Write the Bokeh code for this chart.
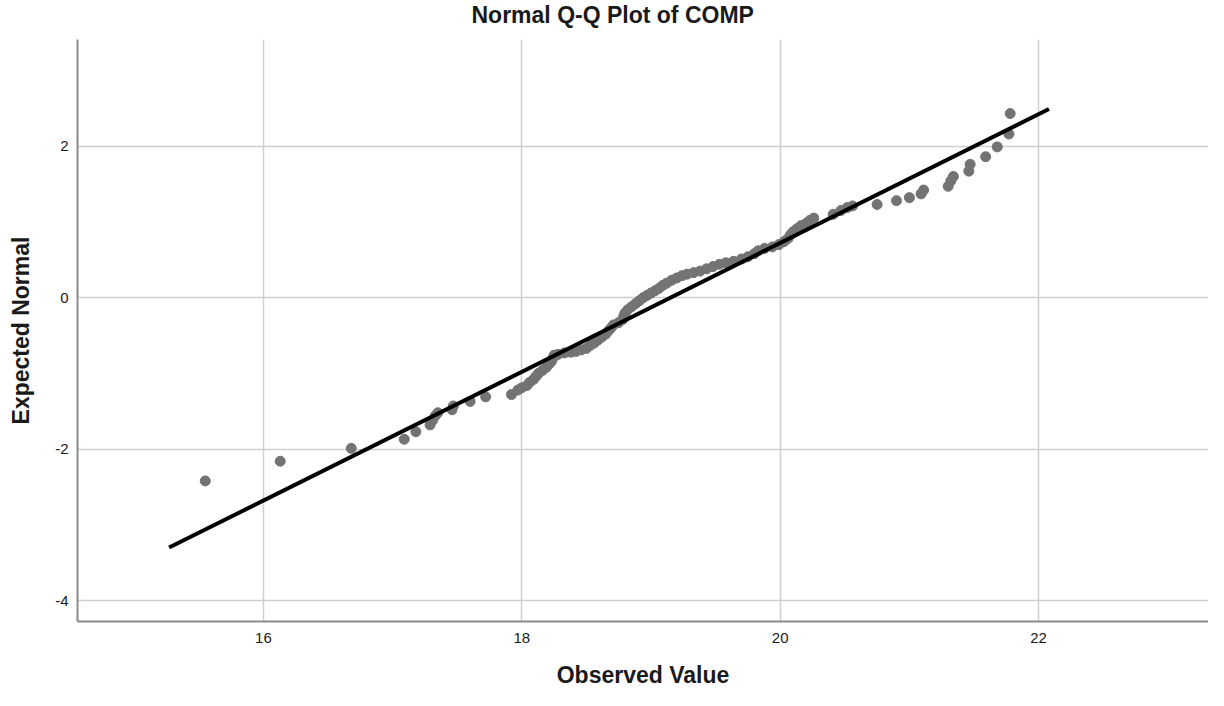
from bokeh.plotting import figure
from bokeh.models import Range1d, FixedTicker, Title
from bokeh.embed import file_html
from bokeh.resources import INLINE

observed = [
    15.55, 16.13, 16.68, 17.09, 17.18, 17.29, 17.31, 17.33, 17.35, 17.46,
    17.47, 17.60, 17.72, 17.92, 17.97, 18.00, 18.04, 18.06, 18.09, 18.11,
    18.13, 18.16, 18.19, 18.21, 18.23, 18.24, 18.25, 18.28, 18.33, 18.38,
    18.42, 18.46, 18.50, 18.53, 18.56, 18.59, 18.62, 18.65, 18.67, 18.69,
    18.71, 18.75, 18.78, 18.79, 18.80, 18.82, 18.85, 18.88, 18.91, 18.94,
    18.97, 19.00, 19.03, 19.06, 19.09, 19.12, 19.16, 19.20, 19.24, 19.28,
    19.33, 19.38, 19.43, 19.48, 19.53, 19.58, 19.64, 19.70, 19.75, 19.80,
    19.83, 19.88, 19.94, 19.99, 20.03, 20.06, 20.08, 20.10, 20.13, 20.16,
    20.20, 20.23, 20.26, 20.41, 20.47, 20.52, 20.56, 20.75, 20.90, 21.00,
    21.09, 21.11, 21.30, 21.32, 21.34, 21.46, 21.47, 21.59, 21.68, 21.77,
    21.78,
]
expected = [
    -2.42, -2.16, -1.99, -1.87, -1.77, -1.68, -1.62, -1.56, -1.52, -1.48,
    -1.43, -1.37, -1.31, -1.28, -1.22, -1.19, -1.16, -1.12, -1.08, -1.04,
    -1.00, -0.96, -0.92, -0.88, -0.84, -0.80, -0.76, -0.75, -0.73, -0.72,
    -0.71, -0.69, -0.67, -0.63, -0.60, -0.56, -0.52, -0.48, -0.44, -0.40,
    -0.36, -0.33, -0.29, -0.24, -0.20, -0.16, -0.12, -0.08, -0.04, 0.00,
    0.03, 0.06, 0.09, 0.12, 0.16, 0.19, 0.23, 0.26, 0.29, 0.31,
    0.33, 0.35, 0.38, 0.41, 0.44, 0.46, 0.48, 0.51, 0.54, 0.58,
    0.62, 0.65, 0.67, 0.70, 0.74, 0.78, 0.83, 0.87, 0.91, 0.95,
    0.98, 1.02, 1.05, 1.10, 1.15, 1.19, 1.21, 1.23, 1.28, 1.32,
    1.37, 1.42, 1.47, 1.54, 1.60, 1.67, 1.76, 1.86, 1.99, 2.16,
    2.43,
]

# Reference line endpoints
line_x = [15.27, 22.08]
line_y = [-3.30, 2.49]

x_ticks = [16, 18, 20, 22]
y_ticks = [-4, -2, 0, 2]

title_text = "Normal Q-Q Plot of COMP"
x_title = "Observed Value"
y_title = "Expected Normal"

FONT = "Liberation Sans"
TXT = "#1a1a1a"

p = figure(
    width=1208, height=690,
    x_range=Range1d(14.561, 23.315),
    y_range=Range1d(-4.276, 3.408),
    output_backend="svg", toolbar_location=None,
    min_border_left=77, min_border_right=0,
    min_border_top=38, min_border_bottom=68,
)
p.outline_line_color = None
p.background_fill_color = "white"
p.border_fill_color = "white"

# small spacer between the frame and the title
p.add_layout(Title(text=" ", text_font_size="5px", standoff=1), "above")

p.title.text = title_text
p.title.align = "left"
p.title.offset = 394
p.title.vertical_align = "top"
p.title.standoff = 2
p.title.text_font = FONT
p.title.text_font_size = "23px"
p.title.text_font_style = "bold"
p.title.text_color = TXT

for ax, ticks in ((p.xaxis, x_ticks), (p.yaxis, y_ticks)):
    ax.ticker = FixedTicker(ticks=ticks)
    ax.major_label_overrides = {t: str(t) for t in ticks}
    ax.major_tick_line_color = None
    ax.minor_tick_line_color = None
    ax.major_tick_out = 0
    ax.major_tick_in = 0
    ax.axis_line_color = "#8a8a8a"
    ax.axis_line_width = 2
    ax.major_label_text_font = FONT
    ax.major_label_text_font_size = "15px"
    ax.major_label_text_color = TXT
    ax.axis_label_text_font = FONT
    ax.axis_label_text_font_size = "23px"
    ax.axis_label_text_font_style = "bold"
    ax.axis_label_text_color = TXT

p.xaxis.axis_label = x_title
p.yaxis.axis_label = y_title
p.xaxis.major_label_standoff = 11
p.yaxis.major_label_standoff = 9
p.xaxis.axis_label_standoff = 16
p.yaxis.axis_label_standoff = 18

p.xgrid.ticker = FixedTicker(ticks=x_ticks)
p.ygrid.ticker = FixedTicker(ticks=y_ticks)
p.grid.grid_line_color = "#cfcfcf"
p.grid.grid_line_width = 1.5

p.scatter(observed, expected, size=10, fill_color="#737373", line_color="#737373")
p.line(line_x, line_y, line_color="black", line_width=4)

open("out.html", "w").write(file_html(p, INLINE))
